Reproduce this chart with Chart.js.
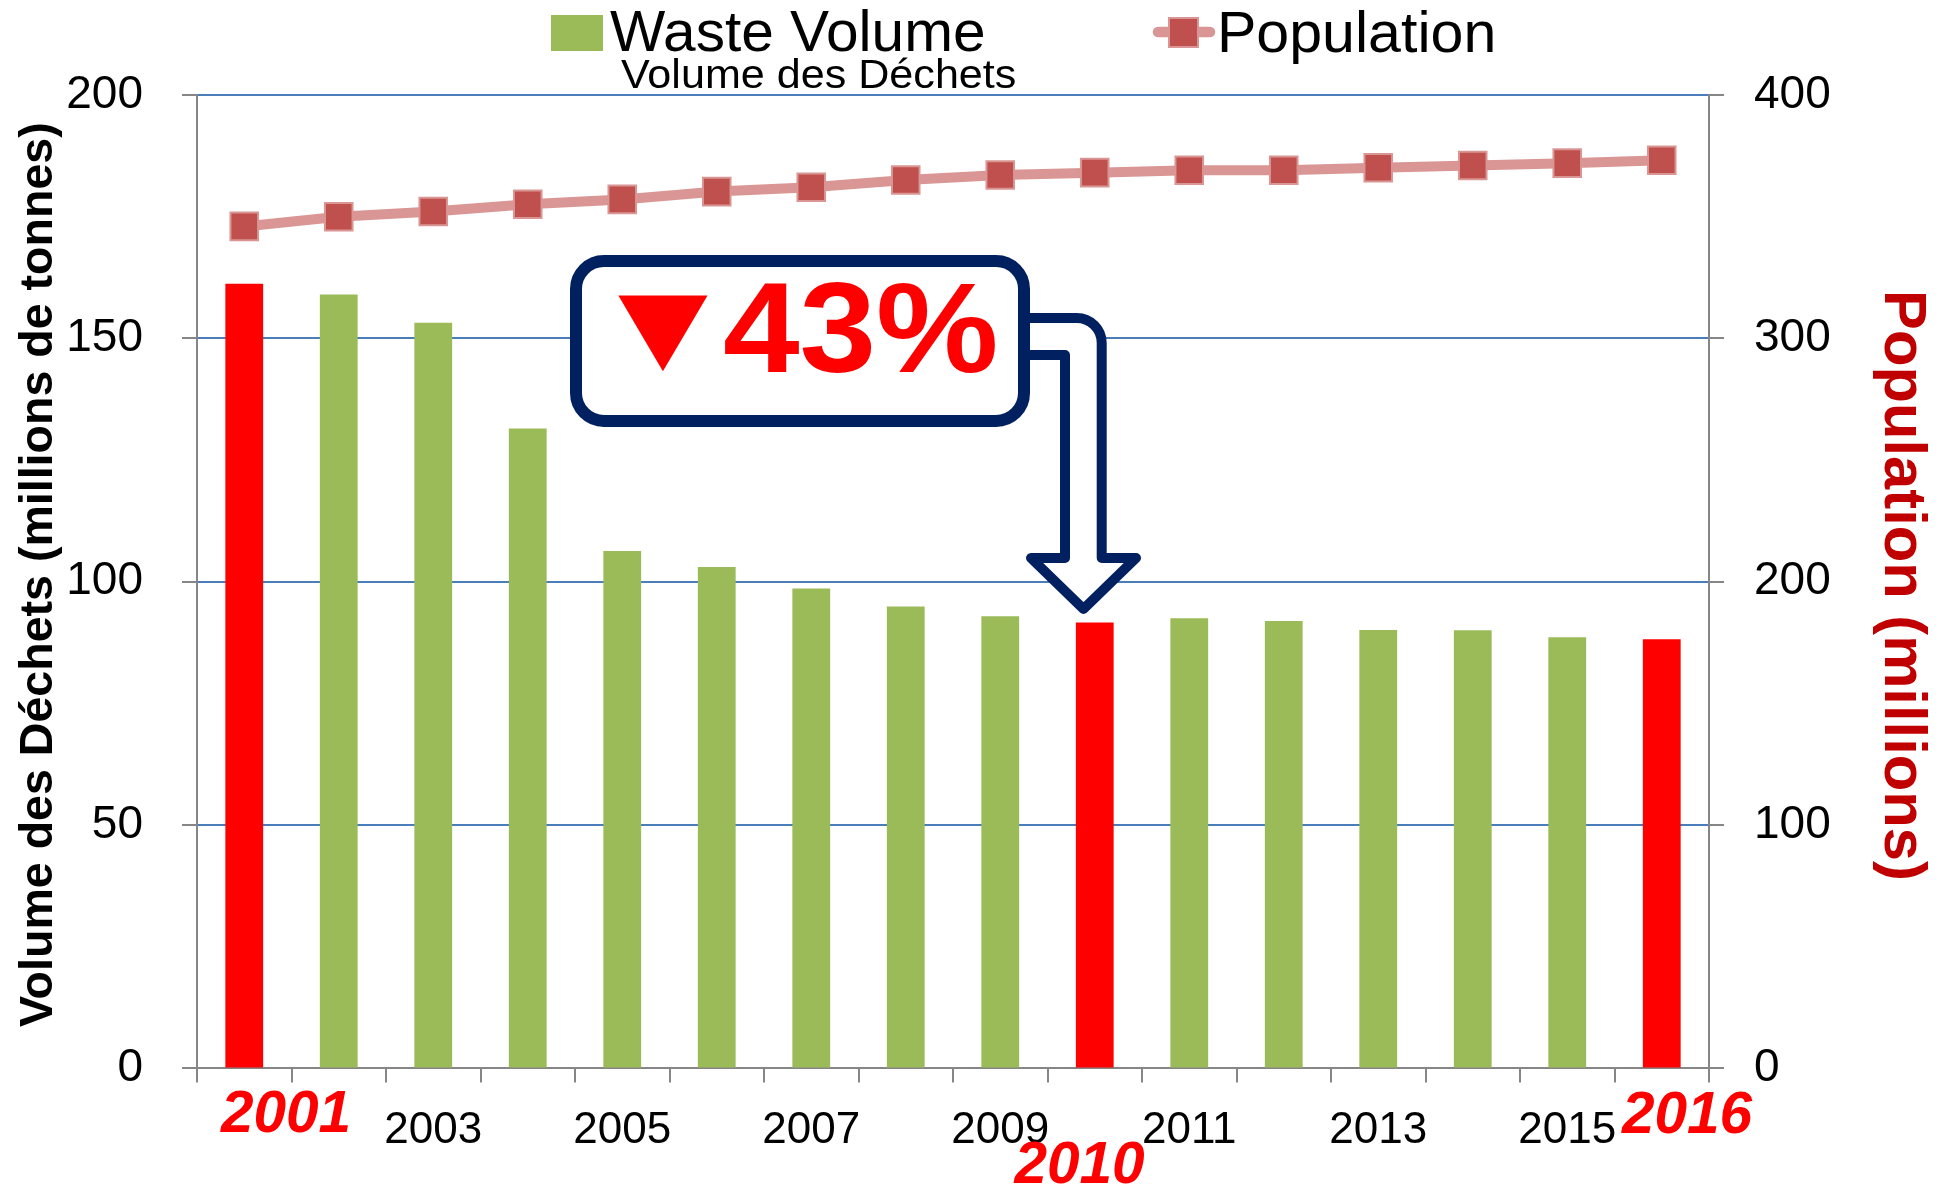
<!DOCTYPE html>
<html><head><meta charset="utf-8">
<script src="https://cdn.jsdelivr.net/npm/chart.js@4.4.1/dist/chart.umd.min.js"></script>
<style>html,body{margin:0;padding:0;background:#fff;overflow:hidden}#wrap{width:1947px;height:1185px;position:relative}canvas{display:block}</style>
</head><body><div id="wrap"><canvas id="c" width="1947" height="1185"></canvas></div>
<script>
// ---- data ----
const years = ['2001','2002','2003','2004','2005','2006','2007','2008','2009','2010','2011','2012','2013','2014','2015','2016'];
const wasteVolume = [161.2,159.0,153.2,131.5,106.3,103.0,98.6,94.9,92.9,91.6,92.5,91.9,90.1,90.0,88.6,88.2];
const population = [346.0,350.0,352.1,355.1,357.1,360.3,362.1,365.1,367.1,368.1,369.1,369.1,370.1,371.0,372.0,373.2];
const highlightYears = ['2001','2010','2016'];
const seriesNames = ['Waste Volume','Population'];
const chartTitle = 'Volume des Déchets';
const leftAxisTitle = 'Volume des Déchets (millions de tonnes)';
const rightAxisTitle = 'Population (millions)';
const calloutSymbol = '▼';
const calloutText = '43%';

const GREEN = '#9BBB59', RED = '#FF0000', PINK = '#D99694', MARKER = '#C0504D', NAVY = '#002060', AXIS = '#868686', GRID = '#4A7EBB';

function drawFit(ctx, text, o) {
  const fs = s => `${o.style||'normal'} ${o.weight||'normal'} ${s}px ${o.family}`;
  ctx.font = fs(100);
  const r = ctx.measureText('H').actualBoundingBoxAscent / 100;
  const size = o.capH / r;
  ctx.font = fs(size);
  ctx.textAlign = 'left'; ctx.textBaseline = 'alphabetic';
  const m = ctx.measureText(text);
  const w = m.actualBoundingBoxLeft + m.actualBoundingBoxRight;
  const sx = o.width ? o.width / w : 1;
  const gw = w * sx;
  const x0 = (o.left !== undefined) ? o.left : o.cx - gw / 2;
  ctx.save();
  ctx.fillStyle = o.color || '#000';
  ctx.translate(x0, o.baseline);
  ctx.scale(sx, 1);
  ctx.fillText(text, m.actualBoundingBoxLeft, 0);
  ctx.restore();
}

const decor = {
  id: 'decor',
  afterDraw(chart) {
    const ctx = chart.ctx;
    const xs = chart.scales.x;
    ctx.save();
    // legend
    ctx.fillStyle = GREEN; ctx.fillRect(551, 15, 52, 36);
    drawFit(ctx, seriesNames[0], {family:"'Liberation Sans'", capH:39, baseline:50.7, left:610, width:373});
    ctx.strokeStyle = PINK; ctx.lineWidth = 10.5; ctx.lineCap = 'round';
    ctx.beginPath(); ctx.moveTo(1158, 32); ctx.lineTo(1210, 32); ctx.stroke();
    ctx.lineCap = 'butt';
    ctx.fillStyle = MARKER; ctx.fillRect(1169, 18, 29, 29);
    ctx.strokeStyle = PINK; ctx.lineWidth = 2; ctx.strokeRect(1169, 18, 29, 29);
    drawFit(ctx, seriesNames[1], {family:"'Liberation Sans'", capH:40, baseline:51.7, left:1221, width:272});
    // title
    drawFit(ctx, chartTitle, {family:"'Liberation Sans'", capH:28, baseline:88, left:621, width:394});
    // axis titles
    ctx.save(); ctx.translate(52, 575.5); ctx.rotate(-Math.PI/2);
    drawFit(ctx, leftAxisTitle, {family:"'Liberation Sans'", weight:'bold', capH:33, baseline:0, cx:0, width:903});
    ctx.restore();
    ctx.save(); ctx.translate(1885, 585.6); ctx.rotate(Math.PI/2);
    drawFit(ctx, rightAxisTitle, {family:"'Liberation Sans'", weight:'bold', capH:41.5, baseline:0, cx:0, width:585, color:'#C00000'});
    ctx.restore();
    // highlighted year labels
    const hl = {'2001':{dx:40, base:1131.7}, '2010':{dx:-16, base:1183.3}, '2016':{dx:25, base:1133}};
    highlightYears.forEach(y => {
      const i = years.indexOf(y);
      const px = xs.getPixelForValue(i);
      drawFit(ctx, y, {family:"'Liberation Sans'", weight:'bold', style:'italic', capH:41, baseline:hl[y].base, cx:px + hl[y].dx, color:RED});
    });
    // callout arrow
    ctx.lineJoin = 'round';
    ctx.strokeStyle = NAVY; ctx.fillStyle = '#fff'; ctx.lineWidth = 10;
    ctx.beginPath();
    ctx.moveTo(1016, 318); ctx.lineTo(1077, 318);
    ctx.arcTo(1101.7, 318, 1101.7, 343, 25);
    ctx.lineTo(1101.7, 558); ctx.lineTo(1136, 558); ctx.lineTo(1083.5, 609);
    ctx.lineTo(1031, 558); ctx.lineTo(1065, 558); ctx.lineTo(1065, 355); ctx.lineTo(1016, 355);
    ctx.closePath(); ctx.fill(); ctx.stroke();
    // callout box
    ctx.lineWidth = 12;
    ctx.beginPath(); ctx.roundRect(576, 261, 448, 160, 28); ctx.fill(); ctx.stroke();
    // triangle symbol fitted to its box
    ctx.font = 'bold 100px "DejaVu Sans"'; ctx.textAlign = 'left'; ctx.textBaseline = 'alphabetic';
    const m = ctx.measureText(calloutSymbol);
    const tw = m.actualBoundingBoxLeft + m.actualBoundingBoxRight, th = m.actualBoundingBoxAscent + m.actualBoundingBoxDescent;
    ctx.save(); ctx.translate(618, 295); ctx.scale(90/tw, 77/th); ctx.fillStyle = RED;
    ctx.fillText(calloutSymbol, m.actualBoundingBoxLeft, m.actualBoundingBoxAscent); ctx.restore();
    drawFit(ctx, calloutText, {family:"'Liberation Sans'", weight:'bold', capH:90, baseline:372, left:724, width:271, color:RED});
    ctx.restore();
  }
};

new Chart(document.getElementById('c'), {
  data: {
    labels: years,
    datasets: [
      {type:'line', label:seriesNames[1], data:population, yAxisID:'y1', borderColor:PINK, borderWidth:10, tension:0, fill:false,
       pointStyle:'rect', pointRadius:19.5, pointBorderWidth:2, pointBorderColor:PINK, pointBackgroundColor:MARKER, order:1},
      {type:'bar', label:seriesNames[0], data:wasteVolume, yAxisID:'y',
       backgroundColor: years.map(y => highlightYears.includes(y) ? RED : GREEN),
       barPercentage:0.4, categoryPercentage:1, order:2}
    ]
  },
  options: {
    responsive:false, animation:false, devicePixelRatio:1,
    layout:{padding:{top:95, left:0, right:0, bottom:0}},
    plugins:{legend:{display:false}, tooltip:{enabled:false}, title:{display:false}},
    scales:{
      x:{offset:true,
         grid:{offset:true, drawOnChartArea:false, color:AXIS, tickColor:AXIS, tickLength:14, lineWidth:2, tickWidth:2},
         border:{color:AXIS, width:2},
         ticks:{autoSkip:false, maxRotation:0, minRotation:0, padding:22, color:'#000', font:{family:"'Liberation Sans'", size:44},
                callback:(v,i) => (i % 2 === 0 && i > 0) ? years[i] : ''},
         afterFit:s => { s.height = 116.6; }},
      y:{position:'left', min:0, max:200,
         ticks:{stepSize:50, padding:39, color:'#000', font:{family:"'Liberation Sans'", size:46}},
         grid:{color:c => c.tick && c.tick.value === 0 ? 'rgba(0,0,0,0)' : GRID, lineWidth:2, tickColor:AXIS, tickLength:15, tickWidth:2},
         border:{color:AXIS, width:2},
         afterFit:s => { s.width = 197; }},
      y1:{position:'right', min:0, max:400,
         ticks:{stepSize:100, padding:30, color:'#000', font:{family:"'Liberation Sans'", size:46}},
         grid:{drawOnChartArea:false, color:AXIS, tickColor:AXIS, tickLength:15, lineWidth:2, tickWidth:2},
         border:{color:AXIS, width:2},
         afterFit:s => { s.width = 238; }}
    }
  },
  plugins:[decor]
});
</script></body></html>
